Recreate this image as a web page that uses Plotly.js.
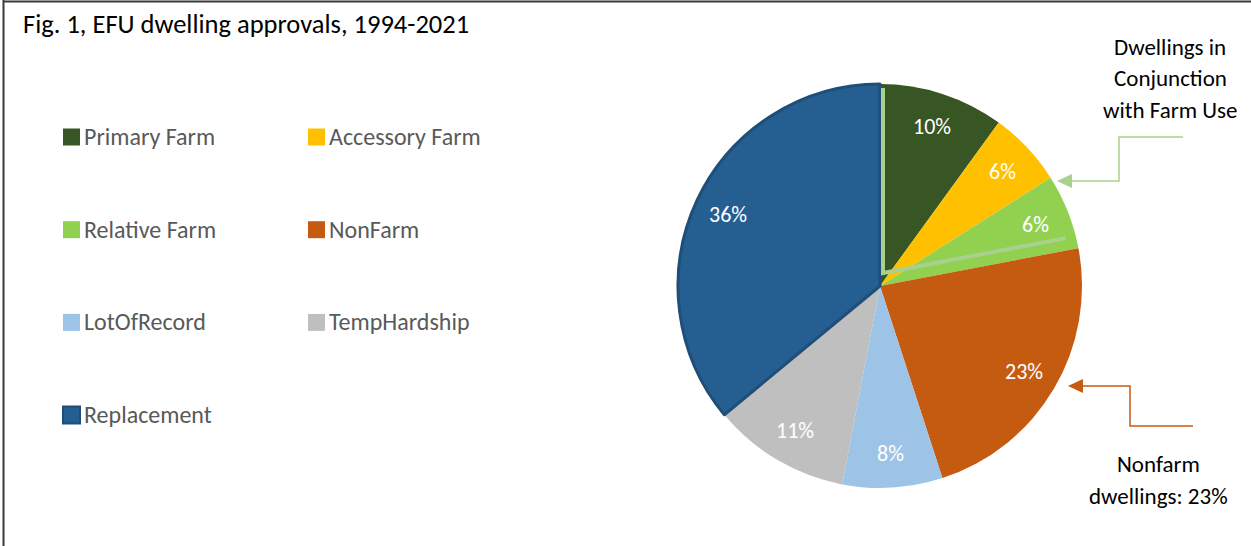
<!DOCTYPE html>
<html>
<head>
<meta charset="utf-8">
<script src="https://cdn.plot.ly/plotly-3.0.1.min.js"></script>
<style>
  html, body { margin: 0; padding: 0; background: #ffffff; }
  #chart { width: 1251px; height: 546px; }
</style>
</head>
<body>
<div id="chart"></div>
<script>
// EFU dwelling approvals by type, 1994-2021 (share of all approvals, %)
const categories = ['Primary Farm', 'Accessory Farm', 'Relative Farm', 'NonFarm', 'LotOfRecord', 'TempHardship', 'Replacement'];
const shares = [10, 6, 6, 23, 8, 11, 36];
const sliceColors = ['#375623', '#FFC000', '#92D050', '#C55A11', '#9DC3E6', '#BFBFBF', '#255E91'];
const farmGroup = ['Primary Farm', 'Accessory Farm', 'Relative Farm'];
const titleText = 'Fig. 1, EFU dwelling approvals, 1994-2021';
const farmNote = ['Dwellings in', 'Conjunction', 'with Farm Use'];
const nonfarmNote = ['Nonfarm', 'dwellings: 23%'];

const W = 1251, H = 546;
const FONT = 'Carlito, Lato, "Open Sans", sans-serif';
const px = x => x / W;
const py = y => 1 - y / H;

// pie placement in pixels
const cx = 880, cy = 286, R = 202;
const total = shares.reduce((a, b) => a + b, 0);

const annotations = [];
const shapes = [];

// frame lines
shapes.push({type: 'line', xref: 'paper', yref: 'paper', x0: px(3.5), x1: px(3.5), y0: py(0), y1: py(H), line: {color: '#3a3a3a', width: 2}});
shapes.push({type: 'line', xref: 'paper', yref: 'paper', x0: px(3), x1: px(W), y0: py(1.5), y1: py(1.5), line: {color: '#3a3a3a', width: 2}});

// title
annotations.push({text: titleText, xref: 'paper', yref: 'paper', x: px(21), y: py(24), xanchor: 'left', yanchor: 'middle',
  showarrow: false, font: {family: FONT, size: 26.5, color: '#000000'}});

// percentage labels placed at each slice's mid-angle
let cum = 0;
shares.forEach((v, i) => {
  const mid = (cum + v / 2) / total * 2 * Math.PI;
  cum += v;
  const r = 0.83 * R;
  annotations.push({text: v + '%', xref: 'paper', yref: 'paper',
    x: px(cx + r * Math.sin(mid)), y: py(cy - r * Math.cos(mid)), xanchor: 'center', yanchor: 'middle',
    showarrow: false, font: {family: FONT, size: 22, color: '#ffffff'}});
});

// outline of the farm-related wedge
const farmShare = shares.filter((v, i) => farmGroup.includes(categories[i])).reduce((a, b) => a + b, 0);
const edge = farmShare / total * 2 * Math.PI;
const corner = [cx + 3, cy - 13];
const edgeLen = 186;
const outline = `M ${px(corner[0])},${py(cy - R + 4)} L ${px(corner[0])},${py(corner[1])} ` +
  `L ${px(corner[0] + edgeLen * Math.sin(edge))},${py(corner[1] - edgeLen * Math.cos(edge))}`;
shapes.push({type: 'path', xref: 'paper', yref: 'paper', path: outline, line: {color: '#A9D18E', width: 4}});

// callout connectors
function elbow(points, color) {
  const d = points.map((p, k) => (k ? 'L ' : 'M ') + px(p[0]) + ',' + py(p[1])).join(' ');
  shapes.push({type: 'path', xref: 'paper', yref: 'paper', path: d, line: {color: color, width: 1.5}});
  const tip = points[points.length - 1];
  const head = `M ${px(tip[0] - 15)},${py(tip[1])} L ${px(tip[0])},${py(tip[1] - 7)} L ${px(tip[0])},${py(tip[1] + 7)} Z`;
  shapes.push({type: 'path', xref: 'paper', yref: 'paper', path: head, fillcolor: color, line: {color: color, width: 0}});
}
elbow([[1183, 137], [1119, 137], [1119, 181], [1072, 181]], '#A9D18E');
elbow([[1193, 426], [1130, 426], [1130, 386], [1083, 386]], '#C55A11');

farmNote.forEach((t, k) => annotations.push({text: t, xref: 'paper', yref: 'paper', x: px(1170), y: py(47 + k * 31.5),
  xanchor: 'center', yanchor: 'middle', showarrow: false, font: {family: FONT, size: 23, color: '#000000'}}));
nonfarmNote.forEach((t, k) => annotations.push({text: t, xref: 'paper', yref: 'paper', x: px(1158), y: py(464 + k * 32),
  xanchor: 'center', yanchor: 'middle', showarrow: false, font: {family: FONT, size: 23, color: '#000000'}}));

// legend: two columns of swatches and names
categories.forEach((name, i) => {
  const col = i % 2, row = Math.floor(i / 2);
  const x0 = col ? 308 : 63;
  const yc = 137 + row * 92.7;
  const isRepl = name === 'Replacement';
  shapes.push({type: 'rect', xref: 'paper', yref: 'paper', x0: px(x0), x1: px(x0 + 17), y0: py(yc - 8.5), y1: py(yc + 8.5),
    fillcolor: sliceColors[i], line: {color: isRepl ? '#1F4E79' : sliceColors[i], width: isRepl ? 2 : 0}});
  annotations.push({text: name, xref: 'paper', yref: 'paper', x: px(x0 + 19), y: py(yc - 0.5), xanchor: 'left', yanchor: 'middle',
    showarrow: false, font: {family: FONT, size: 24, color: '#595959'}});
});

const trace = {
  type: 'pie',
  labels: categories,
  values: shares,
  sort: false,
  direction: 'clockwise',
  rotation: 0,
  textinfo: 'none',
  hoverinfo: 'label+percent',
  showlegend: false,
  marker: {
    colors: sliceColors,
    line: {
      color: categories.map(c => c === 'Replacement' ? '#1F4E79' : 'rgba(0,0,0,0)'),
      width: categories.map(c => c === 'Replacement' ? 3 : 0)
    }
  },
  domain: {x: [px(cx - R), px(cx + R)], y: [py(cy + R), py(cy - R)]}
};

const layout = {
  width: W, height: H,
  margin: {l: 0, r: 0, t: 0, b: 0},
  paper_bgcolor: '#ffffff',
  showlegend: false,
  annotations: annotations,
  shapes: shapes
};

Plotly.newPlot('chart', [trace], layout, {displayModeBar: false, staticPlot: true});
</script>
</body>
</html>
